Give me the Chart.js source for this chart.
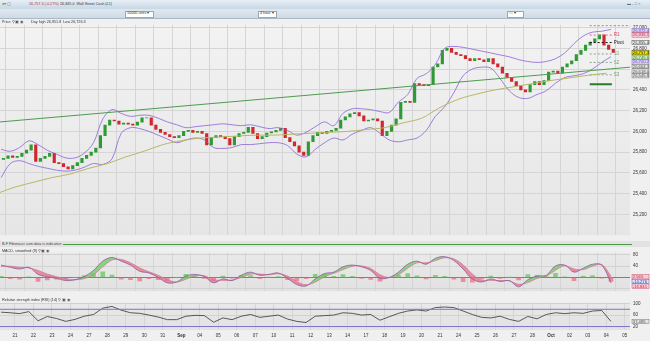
<!DOCTYPE html>
<html>
<head>
<meta charset="utf-8">
<script src="https://cdn.jsdelivr.net/npm/chart.js@4.4.1/dist/chart.umd.min.js"></script>
<style>
  body { margin: 0; background: #e4e4e4; font-family: Arial, 'Liberation Sans', sans-serif; }
  #wrap { position: relative; width: 650px; height: 341px; overflow: hidden; background: #e6e6e6; }
  .bar1 { position: absolute; left: 0; top: 0; width: 650px; height: 9px; background: linear-gradient(#e8eff5, #c7d7e4); }
  .bar2 { position: absolute; left: 0; top: 9px; width: 650px; height: 9px; background: linear-gradient(#dfe8f0, #cddbe6); border-bottom: 1px solid #a7b8c6; }
  .txt { position: absolute; font-size: 6px; line-height: 7px; white-space: nowrap; color: #333; z-index: 5;
         transform: scale(0.62); transform-origin: 0 0; }
  .drop { position: absolute; top: 11px; height: 5px; background: #fff; border: 1px solid #98a8b6; }
  .sep { position: absolute; left: 0; top: 241px; width: 650px; height: 6px; background: #e2e2e2; }
  canvas { position: absolute; left: 0; }
</style>
</head>
<body>
<div id="wrap">
  <div class="bar1"></div>
  <div class="bar2"></div>
  <div class="txt" style="left:2px;top:1.5px;color:#3a9a3a;">&#9679;&#9662; <span style="color:#555">&#9634;</span></div>
  <div class="txt" style="left:29px;top:1.5px;color:#b0304c;">26,757.3 (-0.27%)</div>
  <div class="txt" style="left:60px;top:1.5px;">26,845.0&nbsp; Wall Street Cash (£1)</div>
  <div class="txt" style="left:627px;top:1.5px;color:#56708a;">&#9644; &ndash; &#9633; &times;</div>
  <div class="drop" style="left:125px;width:27px;"></div>
  <div class="txt" style="left:127px;top:11px;">10000 units &#9662;</div>
  <div class="drop" style="left:258px;width:17px;"></div>
  <div class="txt" style="left:260px;top:11px;">4 hour &#9662;</div>
  <div class="drop" style="left:507px;width:15px;"></div>
  <div class="txt" style="left:509px;top:11px;color:#3a8a3a;">&#8776;&#8776; <span style="color:#333">&#9662;</span></div>

  <canvas id="priceChart" width="650" height="222" style="top:19px;"></canvas>
  <div class="txt" style="left:2px;top:20px;">Price <span style="color:#555">&#9906; &#9635; &#9673;</span></div>
  <div class="txt" style="left:31px;top:20px;">Day high 26,951.8 &nbsp;Low 26,726.3</div>

  <div class="sep"></div>
  <div class="txt" style="left:2px;top:242px;color:#444;">B-F Fibonacci sum data is indicative</div>
  <div style="position:absolute;left:63px;top:244px;width:569px;height:1px;background:#4c9a4c;"></div>

  <canvas id="macdChart" width="650" height="50" style="top:247px;"></canvas>
  <div class="txt" style="left:2px;top:249px;">MACD, smoothed (9) <span style="color:#555">&#9906; &#9635; &#9673;</span></div>

  <canvas id="rsiChart" width="650" height="44" style="top:297px;"></canvas>
  <div class="txt" style="left:2px;top:297.5px;">Relative strength index (RSI) (14) <span style="color:#555">&#9906; &#9635; &#9673;</span></div>
</div>

<script>
// trading days shown on the time axis (Aug 21 -> Oct 5)
const dayLabels = ['21', '22', '23', '24', '27', '28', '29', '30', '31', 'Sep', '04', '05', '06', '07', '10', '11', '12',
  '13', '14', '17', '18', '19', '20', '21', '24', '25', '26', '27', '28', 'Oct', '02', '03', '04', '05'];
const priceTicks = [25200, 25400, 25600, 25800, 26000, 26200, 26400, 26600, 26800, 27000];

// 4 candles a day (closes), last 3 of Aug 20 first
const firstOpen = 25730;
const closes = [
  25740, 25765, 25750,
  25760, 25790, 25820, 25870,
  25710, 25740, 25760, 25790,
  25700, 25690, 25660, 25640,
  25670, 25700, 25740, 25770,
  25800, 25840, 25960, 26060,
  26110, 26100, 26070, 26080,
  26070, 26060, 26090, 26130,
  26130, 26060, 26020, 25990,
  25970, 25950, 25940, 25960,
  26000, 26010, 25990, 26000,
  25980, 25870, 25940, 25960,
  25950, 25930, 25870, 25950,
  25980, 25990, 26040, 25980,
  25930, 25950, 25985, 25995,
  26010, 26030, 25940, 25900,
  25860, 25800, 25770, 25900,
  25960, 25990, 25980, 26000,
  26010, 26030, 26110, 26140,
  26170, 26180, 26150, 26100,
  26110, 26120, 26100, 25960,
  26000, 26060, 26120, 26280,
  26290, 26280, 26460, 26450,
  26440, 26450, 26620, 26650,
  26780, 26800, 26760, 26740,
  26730, 26700, 26680, 26700,
  26690, 26670, 26700, 26650,
  26620, 26560, 26520, 26480,
  26440, 26400, 26380, 26450,
  26480, 26450, 26490, 26570,
  26580, 26560, 26620, 26650,
  26680, 26740, 26780, 26830,
  26860, 26890, 26930, 26830,
  26790, 26760
];

// indicator readings, two per day (Aug 20 -> Oct 4)
const bbUpper = [
  25827, 25809, 25845, 25909, 25873, 25818, 25782, 25745, 25745, 25791, 25891, 26118, 26209, 26173,
  26145, 26155, 26155, 26127, 26091, 26064, 26036, 26045, 26055, 26064, 26073, 26064, 26055, 26064,
  26045, 26027, 26036, 26009, 25964, 25991, 26045, 26091, 26055, 26173, 26218, 26218, 26209, 26191,
  26182, 26282, 26355, 26509, 26555, 26645, 26800, 26818, 26809, 26791, 26773, 26755, 26736, 26718,
  26691, 26673, 26664, 26673, 26700, 26755, 26845, 26918, 26955, 26964, 26982
];
const bbLower = [
  25555, 25691, 25718, 25691, 25664, 25645, 25627, 25618, 25627, 25655, 25691, 25682, 25736, 25982,
  26036, 26027, 26000, 25964, 25927, 25891, 25918, 25936, 25918, 25845, 25836, 25845, 25873, 25873,
  25882, 25891, 25891, 25864, 25782, 25755, 25827, 25891, 25936, 25918, 25973, 26009, 26036, 25982,
  25918, 25900, 25918, 25936, 26009, 26145, 26236, 26373, 26536, 26600, 26618, 26609, 26509, 26391,
  26327, 26318, 26355, 26391, 26464, 26518, 26536, 26555, 26600, 26664, 26718
];
// long moving average, one per day start (Aug 20 -> Oct 4)
const maLong = [
  25400, 25464, 25510, 25555, 25590, 25645, 25690, 25755, 25810, 25873, 25910, 25936, 25945, 25955,
  25964, 25964, 25973, 25982, 25991, 26000, 26018, 26036, 26082, 26127, 26230, 26310, 26360, 26400,
  26430, 26460, 26490, 26515, 26540, 26560
];
const trendLine = [26091, 26618];
const pivotNames = ['R2', 'R1', 'Pivot', 'S1', 'S2', 'S3'];
const pivotValues = [27018, 26927, 26855, 26745, 26664, 26545];
const priorLow = 26455;
const priceBoxValues = [26972.4, 26935.1, 26855.0, 26757.3, 26745.6, 26700.2, 26664.3, 26618.0, 26545.8];
const priceBoxKinds = ['band', 'r', 'pivot', 'last', 's', 'band', 'grey', 'grey', 'grey'];

const macdLine = [
  44, 36, 30, 36, 11, 3, -3, -11, -8, 3, 25, 58, 71, 58, 44, 22, 16, 0, -19, -16, 5, 11, 3, -19,
  -5, -11, 8, 19, 8, 11, 16, -3, -25, -30, -5, 14, 19, 38, 44, 38, 25, -3, 0, 19, 47, 58, 47, 68,
  74, 60, 30, -5, -16, -5, -14, -11, -33, -8, 5, 8, 41, 44, 19, 33, 47, 44, -19
];
const macdSignal = [
  40, 40, 36, 34, 25, 12, 3, -5, -8, -4, 10, 38, 62, 64, 52, 34, 20, 8, -8, -16, -6, 6, 6, -8,
  -10, -9, 0, 12, 12, 10, 13, 5, -14, -26, -16, 3, 15, 28, 40, 41, 32, 10, 0, 10, 33, 52, 52, 60,
  70, 66, 45, 12, -10, -10, -11, -12, -24, -18, -3, 5, 26, 42, 30, 28, 40, 46, 5
];
const macdHist = [
  4, -4, -6, 2, -14, -9, -6, -6, 0, 7, 15, 20, 9, -6, -8, -12, -4, -8, -11, 0, 11, 5, -3, -11,
  5, -2, 8, 7, -4, 1, 3, -8, -11, -4, 11, 11, 4, 10, 4, -3, -7, -13, 0, 9, 14, 6, -5, 8,
  4, -6, -15, -17, -6, 5, -3, 1, -9, 10, 8, 3, 15, 2, -11, 5, 7, -2, -14
];
const macdTicks = [-40, -20, 0, 20, 40, 60, 80];
const macdBoxValues = [2.565, -14.276, -16.841];
const macdBoxKinds = ['r', 'blue', 'r'];

const rsiValues = [
  70, 68, 65, 72, 40, 55, 48, 38, 45, 56, 62, 84, 90, 77, 68, 66, 60, 53, 44, 44, 56, 59, 58, 35,
  50, 44, 56, 62, 52, 56, 60, 46, 38, 34, 56, 58, 60, 68, 66, 60, 62, 42, 54, 66, 74, 78, 74, 86,
  88, 86, 74, 62, 52, 50, 56, 45, 38, 55, 47, 62, 68, 65, 68, 66, 74, 76, 38
];
const rsiLevels = [80, 20];
const rsiTicks = [20, 40, 60, 80, 100];
const rsiBoxValues = [37.485];
const rsiBoxKinds = ['grey'];

const X_MIN = -0.81, X_MAX = 33.28;
const UP = '#2f9a35', DOWN = '#d0262e', PURPLE = '#8a62d8';

Chart.defaults.font.family = 'Arial, "Liberation Sans", sans-serif';
Chart.defaults.animation = false;

const candleX = i => -0.625 + 0.25 * i;
const halfX = i => -0.75 + 0.5 * i;

const boxStyles = {
  band: ['#ddd2f5', '#6a4cb0'], r: ['#f6ccd6', '#c0304f'], pivot: ['#ffffff', '#111111'],
  last: ['#f2e400', '#111111'], s: ['#d2ebcd', '#2f7a2f'], grey: ['#e4e4e4', '#555555'], blue: ['#dfe3f6', '#3040b0']
};

function panelBg(top, bottom) {
  return {
    id: 'panelBg',
    beforeDraw(chart) {
      const { ctx, chartArea: a, width, height } = chart;
      ctx.save();
      ctx.fillStyle = '#f0f0f0';
      ctx.fillRect(0, 0, width, height);
      const g = ctx.createLinearGradient(0, a.top, 0, a.bottom);
      g.addColorStop(0, top);
      g.addColorStop(1, bottom);
      ctx.fillStyle = g;
      ctx.fillRect(a.left, a.top, a.right - a.left, a.bottom - a.top);
      ctx.restore();
    }
  };
}

function axisBoxes(values, kinds, digits) {
  return {
    id: 'axisBoxes',
    afterDraw(chart) {
      const { ctx, chartArea: a, scales: { y } } = chart;
      ctx.save();
      ctx.font = '4.2px Arial';
      ctx.textBaseline = 'middle';
      let last = -Infinity;
      values.map((v, i) => ({ v, k: kinds[i] }))
        .sort((p, q) => q.v - p.v)
        .forEach(({ v, k }) => {
          const py = Math.max(y.getPixelForValue(v), last + 4.6);
          last = py;
          const [bg, fg] = boxStyles[k];
          ctx.fillStyle = bg;
          ctx.fillRect(a.right + 2, py - 2.2, 17, 4.4);
          ctx.strokeStyle = fg;
          ctx.lineWidth = 0.4;
          ctx.strokeRect(a.right + 2, py - 2.2, 17, 4.4);
          ctx.fillStyle = fg;
          ctx.fillText(v.toLocaleString('en-US', { minimumFractionDigits: digits, maximumFractionDigits: digits }), a.right + 2.8, py + 0.3);
        });
      ctx.restore();
    }
  };
}

const pivotLabels = {
  id: 'pivotLabels',
  afterDatasetsDraw(chart) {
    const { ctx, scales: { x, y } } = chart;
    ctx.save();
    ctx.font = '4.5px Arial';
    ctx.textBaseline = 'middle';
    pivotNames.forEach((name, i) => {
      if (i === 0) return;
      ctx.fillStyle = i < 2 ? '#d04060' : i === 2 ? '#111' : '#7a9a7a';
      ctx.fillText(name, x.getPixelForValue(32.4), y.getPixelForValue(pivotValues[i]));
    });
    ctx.restore();
  }
};

function xAxis(showLabels) {
  return {
    type: 'linear',
    min: X_MIN,
    max: X_MAX,
    offset: false,
    afterBuildTicks: s => { s.ticks = dayLabels.map((_, i) => ({ value: i })); },
    afterFit: s => { s.height = showLabels ? 11 : 0; },
    ticks: {
      display: showLabels,
      autoSkip: false,
      maxRotation: 0,
      padding: 3,
      color: '#333',
      font: ctx => ({ size: 4.5, weight: /[A-Z]/.test(dayLabels[ctx.index] || '') ? 'bold' : 'normal' }),
      callback: v => dayLabels[Math.round(v)]
    },
    grid: { color: '#d5d5d5', lineWidth: 1, drawTicks: false },
    border: { display: false }
  };
}

function yAxis(min, max, ticks, fmt, gridColor) {
  return {
    position: 'right',
    min, max,
    afterBuildTicks: s => { s.ticks = ticks.map(v => ({ value: v })); },
    afterFit: s => { s.width = 20; },
    ticks: { font: { size: 4.5 }, color: '#333', padding: 3, callback: fmt },
    grid: { color: gridColor, drawTicks: false },
    border: { display: false }
  };
}

const baseOptions = {
  responsive: false,
  maintainAspectRatio: false,
  layout: { padding: 0 },
  plugins: { legend: { display: false }, tooltip: { enabled: false } }
};

// ---- price panel ----
const candleData = closes.map((c, i) => ({ x: candleX(i), y: [i === 0 ? firstOpen : closes[i - 1], c] }));
const candleColors = closes.map((c, i) => c >= (i === 0 ? firstOpen : closes[i - 1]) ? UP : DOWN);
const lineDs = (data, color, width, extra) => Object.assign({
  type: 'line', data, borderColor: color, borderWidth: width, pointRadius: 0, tension: 0.35, fill: false
}, extra || {});

const pivotSets = pivotValues.map((v, i) => lineDs(
  [{ x: 31.1, y: v }, { x: i === 0 ? X_MAX : 32.3, y: v }],
  i < 2 ? '#e06a86' : i === 2 ? '#111' : '#86a886', 1, { borderDash: [2, 2], tension: 0 }));

new Chart(document.getElementById('priceChart'), {
  type: 'bar',
  data: {
    datasets: [
      lineDs([{ x: X_MIN, y: trendLine[0] }, { x: X_MAX, y: trendLine[1] }], '#4f9a4f', 1, { tension: 0 }),
      lineDs(maLong.map((v, i) => ({ x: i - 1, y: v })), '#b9b665', 1),
      lineDs(bbUpper.map((v, i) => ({ x: halfX(i), y: v })), PURPLE, 0.8),
      lineDs(bbLower.map((v, i) => ({ x: halfX(i), y: v })), PURPLE, 0.8),
      ...pivotSets,
      lineDs([{ x: 31.1, y: priorLow }, { x: 32.3, y: priorLow }], '#2a7a2a', 2, { tension: 0 }),
      { type: 'bar', data: candleData, backgroundColor: candleColors, barThickness: 2.5, borderWidth: 0, grouped: false }
    ]
  },
  options: Object.assign({}, baseOptions, {
    scales: {
      x: xAxis(false),
      y: yAxis(25000, 27027, priceTicks, v => v.toLocaleString('en-US'), '#d5d5d5')
    }
  }),
  plugins: [panelBg('#f2f2f2', '#e6e6e6'), pivotLabels, axisBoxes(priceBoxValues, priceBoxKinds, 1)]
});

// ---- MACD panel ----
new Chart(document.getElementById('macdChart'), {
  type: 'bar',
  data: {
    datasets: [
      lineDs(macdLine.map((v, i) => ({ x: halfX(i), y: v })), '#8a5aa8', 0.8,
        { fill: { target: '+1', above: 'rgba(110,200,100,0.75)', below: 'rgba(232,110,135,0.75)' } }),
      lineDs(macdSignal.map((v, i) => ({ x: halfX(i), y: v })), '#e0708e', 0.8),
      { type: 'bar', data: macdHist.map((v, i) => ({ x: halfX(i), y: v })),
        backgroundColor: macdHist.map(v => v >= 0 ? 'rgba(110,200,100,0.8)' : 'rgba(232,120,140,0.8)'),
        barThickness: 4, borderWidth: 0 }
    ]
  },
  options: Object.assign({}, baseOptions, {
    scales: {
      x: xAxis(false),
      y: yAxis(-49, 88, macdTicks, v => v > 0 ? String(v) : '',
        ctx => ctx.tick && ctx.tick.value === 0 ? '#8070d0' : '#d2d2d2')
    }
  }),
  plugins: [panelBg('#e9e9e9', '#e2e2e2'), axisBoxes(macdBoxValues, macdBoxKinds, 3)]
});

// ---- RSI panel ----
new Chart(document.getElementById('rsiChart'), {
  type: 'line',
  data: {
    datasets: [
      ...rsiLevels.map(v => lineDs([{ x: X_MIN, y: v }, { x: X_MAX, y: v }], '#8070d0', 1, { tension: 0 })),
      lineDs(rsiValues.map((v, i) => ({ x: halfX(i), y: v })), '#333', 0.8, { tension: 0 })
    ]
  },
  options: Object.assign({}, baseOptions, {
    scales: {
      x: xAxis(true),
      y: yAxis(8, 103, rsiTicks, v => String(v), '#d2d2d2')
    }
  }),
  plugins: [panelBg('#e9e9e9', '#e2e2e2'), axisBoxes(rsiBoxValues, rsiBoxKinds, 3)]
});
</script>
</body>
</html>
